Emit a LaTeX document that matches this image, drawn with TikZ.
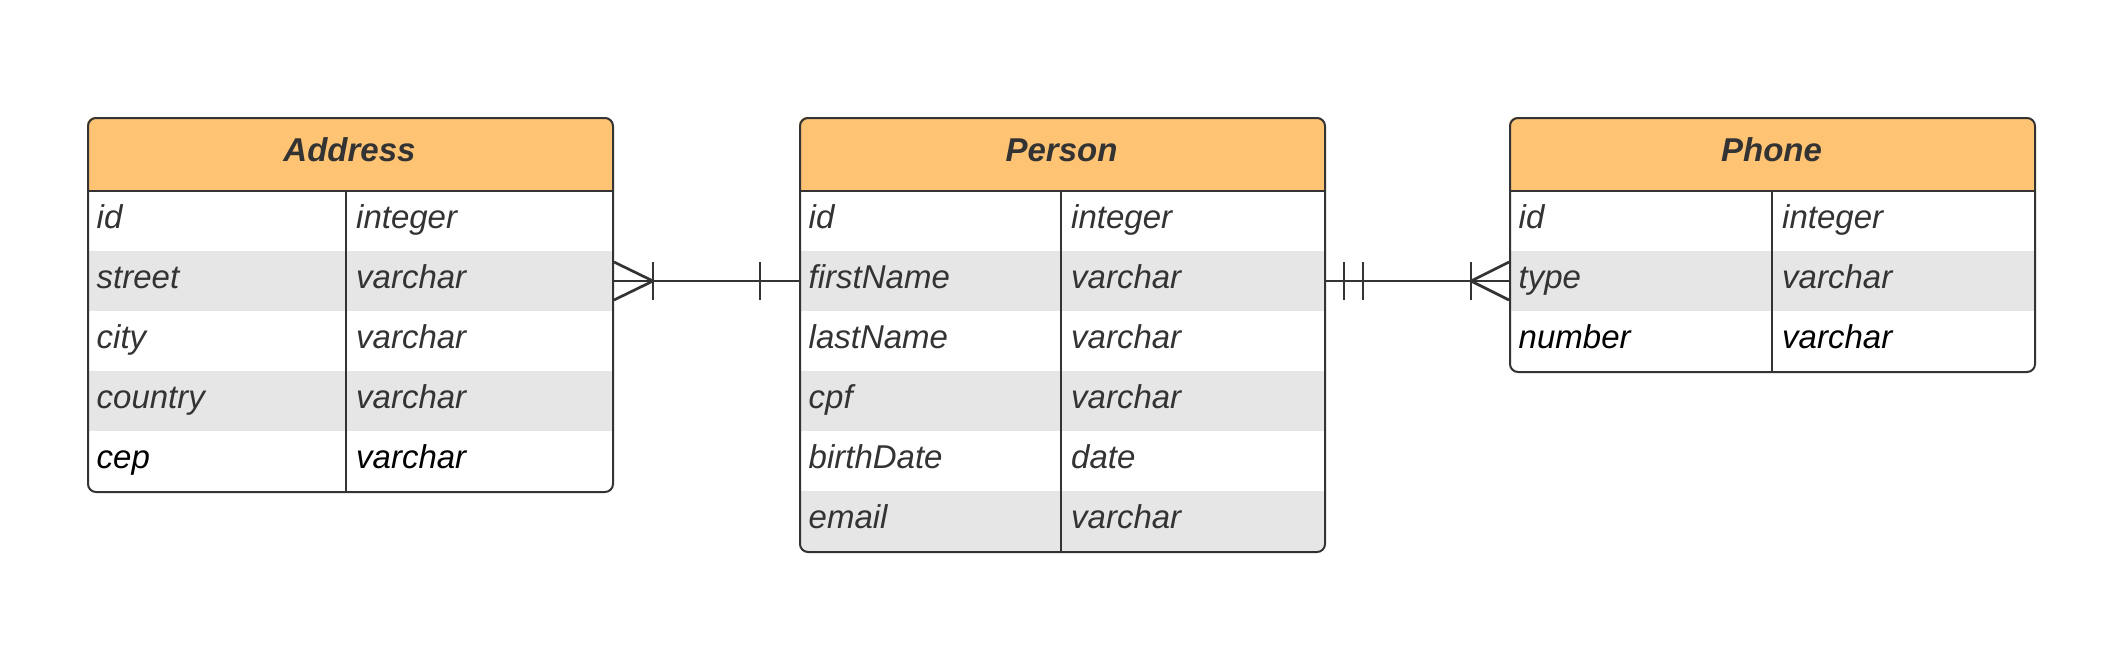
\documentclass[tikz,border=0pt]{standalone}
\usepackage{fontspec}
\setmainfont{Liberation Sans}
\definecolor{hdr}{HTML}{FFC374}
\definecolor{alt}{HTML}{E6E6E6}
\definecolor{ink}{HTML}{333333}
\tikzset{
  tblbox/.style={draw=ink, line width=2pt, rounded corners=8pt, inner sep=0pt, anchor=north west, minimum width=525pt},
  hline/.style={draw=ink, line width=2pt},
  vline/.style={draw=ink, line width=1.4pt},
  cell/.style={anchor=base west, inner sep=0pt, font=\fontsize{33}{40}\selectfont\itshape, text=ink},
  lastcell/.style={cell, text=black},
  ttl/.style={anchor=base, inner sep=0pt, font=\fontsize{33}{40}\selectfont\bfseries\itshape, text=ink},
  rel/.style={draw=ink, line width=2.7pt},
}
\begin{document}
\begin{tikzpicture}[x=1pt,y=-1pt]
\useasboundingbox (0,0) rectangle (2128,649);
% ---------- Address ----------
\begin{scope}
  \clip[rounded corners=8pt] (87,117) rectangle (612,491);
  \fill[hdr] (87,117) rectangle (612,191);
  \fill[alt] (87,251) rectangle (612,311);
  \fill[alt] (87,371) rectangle (612,431);
\end{scope}
\node[tblbox, minimum height=374pt] (addr) at (87,117) {};
\draw[hline] (addr.west |- 0,191) -- (addr.east |- 0,191);
\draw[vline] (346,191) -- (346,491);
\node[ttl] (addrT) at (349.5,161) {Address};
\node[cell] (a1n) at (96.5,228) {id};      \node[cell] (a1t) at (356,228) {integer};
\node[cell] (a2n) at (96.5,288) {street};  \node[cell] (a2t) at (356,288) {varchar};
\node[cell] (a3n) at (96.5,348) {city};    \node[cell] (a3t) at (356,348) {varchar};
\node[cell] (a4n) at (96.5,408) {country}; \node[cell] (a4t) at (356,408) {varchar};
\node[lastcell] (a5n) at (96.5,468) {cep}; \node[lastcell] (a5t) at (356,468) {varchar};
% ---------- Person ----------
\begin{scope}
  \clip[rounded corners=8pt] (799,117) rectangle (1324,551);
  \fill[hdr] (799,117) rectangle (1324,191);
  \fill[alt] (799,251) rectangle (1324,311);
  \fill[alt] (799,371) rectangle (1324,431);
  \fill[alt] (799,491) rectangle (1324,551);
\end{scope}
\node[tblbox, minimum height=434pt] (per) at (799,117) {};
\draw[hline] (per.west |- 0,191) -- (per.east |- 0,191);
\draw[vline] (1061,191) -- (1061,551);
\node[ttl] (perT) at (1061.5,161) {Person};
\node[cell] (p1n) at (808.5,228) {id};        \node[cell] (p1t) at (1071,228) {integer};
\node[cell] (p2n) at (808.5,288) {firstName}; \node[cell] (p2t) at (1071,288) {varchar};
\node[cell] (p3n) at (808.5,348) {lastName};  \node[cell] (p3t) at (1071,348) {varchar};
\node[cell] (p4n) at (808.5,408) {cpf};       \node[cell] (p4t) at (1071,408) {varchar};
\node[cell] (p5n) at (808.5,468) {birthDate}; \node[cell] (p5t) at (1071,468) {date};
\node[cell] (p6n) at (808.5,528) {email};     \node[cell] (p6t) at (1071,528) {varchar};
% ---------- Phone ----------
\begin{scope}
  \clip[rounded corners=8pt] (1509,117) rectangle (2034,371);
  \fill[hdr] (1509,117) rectangle (2034,191);
  \fill[alt] (1509,251) rectangle (2034,311);
\end{scope}
\node[tblbox, minimum height=254pt] (pho) at (1509,117) {};
\draw[hline] (pho.west |- 0,191) -- (pho.east |- 0,191);
\draw[vline] (1772,191) -- (1772,371);
\node[ttl] (phoT) at (1771.5,161) {Phone};
\node[cell] (h1n) at (1518.5,228) {id};          \node[cell] (h1t) at (1782,228) {integer};
\node[cell] (h2n) at (1518.5,288) {type};        \node[cell] (h2t) at (1782,288) {varchar};
\node[lastcell] (h3n) at (1518.5,348) {number};  \node[lastcell] (h3t) at (1782,348) {varchar};
% ---------- relationships ----------
\coordinate (ca) at (addr.east |- 0,281);
\coordinate (cp1) at (per.west |- 0,281);
\coordinate (cp2) at (per.east |- 0,281);
\coordinate (ch) at (pho.west |- 0,281);
% Address (many) -- Person (one)
\draw[rel] (ca) -- (cp1);
\draw[rel] ([yshift=19pt]ca) -- ([xshift=39pt]ca) -- ([yshift=-19pt]ca);
\draw[rel] ([xshift=39pt,yshift=19pt]ca) -- ([xshift=39pt,yshift=-19pt]ca);
\draw[rel] ([xshift=-39pt,yshift=19pt]cp1) -- ([xshift=-39pt,yshift=-19pt]cp1);
% Person (one and only one) -- Phone (many)
\draw[rel] (cp2) -- (ch);
\draw[rel] ([xshift=18pt,yshift=19pt]cp2) -- ([xshift=18pt,yshift=-19pt]cp2);
\draw[rel] ([xshift=37pt,yshift=19pt]cp2) -- ([xshift=37pt,yshift=-19pt]cp2);
\draw[rel] ([yshift=19pt]ch) -- ([xshift=-38pt]ch) -- ([yshift=-19pt]ch);
\draw[rel] ([xshift=-38pt,yshift=19pt]ch) -- ([xshift=-38pt,yshift=-19pt]ch);
\end{tikzpicture}
\end{document}
